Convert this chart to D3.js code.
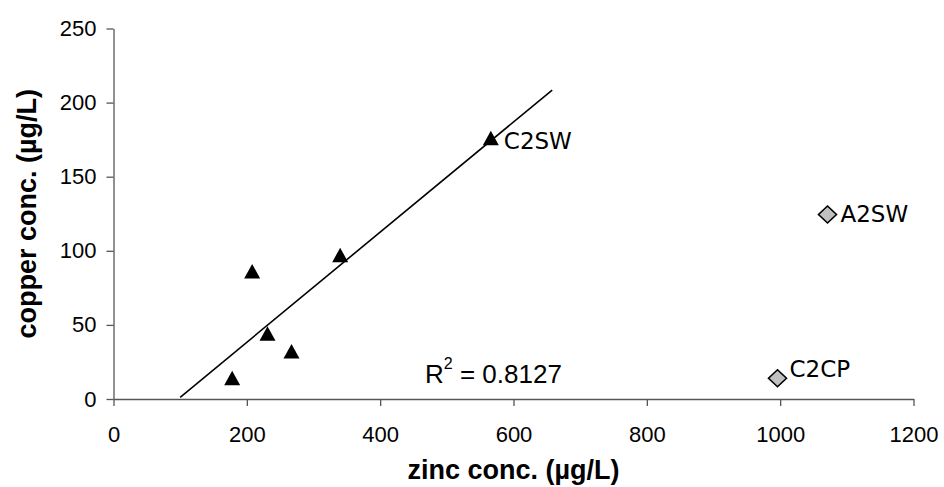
<!DOCTYPE html>
<html>
<head>
<meta charset="utf-8">
<script src="https://cdn.jsdelivr.net/npm/d3@7"></script>
<style>
  html, body { margin: 0; padding: 0; background: #fff; }
  svg { display: block; }
</style>
</head>
<body>
<svg id="chart" width="944" height="487"></svg>
<script>
// Sampling sites: zinc vs copper concentration (µg/L)
const siteNames    = ["", "", "", "", "", "C2SW"];
const zincValues   = [178, 208, 231, 267, 340, 566];
const copperValues = [14, 86, 44, 32, 97, 176];

// Outlying sites, plotted separately and excluded from the fit
const outlierNames  = ["A2SW", "C2CP"];
const outlierZinc   = [1071, 996];
const outlierCopper = [124.5, 14];

// Axis ticks and trend-line extent (forecast range of the linear fit)
const xTicks = [0, 200, 400, 600, 800, 1000, 1200];
const yTicks = [0, 50, 100, 150, 200, 250];
const trendRange = [100, 658];
const rSquaredLabel = "0.8127";

const svg = d3.select("#chart");

const x = d3.scaleLinear().domain([0, 1200]).range([113.5, 913.5]);
const y = d3.scaleLinear().domain([0, 250]).range([399, 28.5]);

const axisColor = "#555";
const sansFont = "Liberation Sans, Arial, sans-serif";

// X axis
const gx = svg.append("g")
  .attr("transform", `translate(0,${y(0)})`)
  .call(d3.axisBottom(x).tickValues(xTicks).tickFormat(d3.format("d"))
    .tickSizeInner(7).tickSizeOuter(0).tickPadding(20));
// Y axis
const gy = svg.append("g")
  .attr("transform", `translate(${x(0)},0)`)
  .call(d3.axisLeft(y).tickValues(yTicks).tickFormat(d3.format("d"))
    .tickSizeInner(7).tickSizeOuter(0).tickPadding(10));

[gx, gy].forEach(g => {
  g.select(".domain").attr("stroke", axisColor).attr("stroke-width", 1.3);
  g.selectAll(".tick line").attr("stroke", axisColor).attr("stroke-width", 1.3);
  g.selectAll(".tick text")
    .attr("fill", "#000")
    .style("font-family", sansFont)
    .style("font-size", "22px");
});

// Axis titles
svg.append("text")
  .attr("x", (x(0) + x(1200)) / 2)
  .attr("y", 479)
  .attr("text-anchor", "middle")
  .style("font-family", sansFont)
  .style("font-weight", "bold")
  .style("font-size", "27px")
  .text("zinc conc. (µg/L)");

svg.append("text")
  .attr("transform", `translate(36,${(y(0) + y(250)) / 2}) rotate(-90)`)
  .attr("text-anchor", "middle")
  .style("font-family", sansFont)
  .style("font-weight", "bold")
  .style("font-size", "27px")
  .text("copper conc. (µg/L)");

// Least-squares fit of the main sites
const n = zincValues.length;
const mx = d3.mean(zincValues), my = d3.mean(copperValues);
let sxy = 0, sxx = 0;
for (let i = 0; i < n; i++) {
  sxy += (zincValues[i] - mx) * (copperValues[i] - my);
  sxx += (zincValues[i] - mx) ** 2;
}
const slope = sxy / sxx, intercept = my - slope * mx;

svg.append("line")
  .attr("x1", x(trendRange[0])).attr("y1", y(intercept + slope * trendRange[0]))
  .attr("x2", x(trendRange[1])).attr("y2", y(intercept + slope * trendRange[1]))
  .attr("stroke", "#000")
  .attr("stroke-width", 1.6);

// Triangle markers for the main sites
const tri = "M0,-7.5L8,7L-8,7Z";
svg.append("g").selectAll("path")
  .data(zincValues.map((z, i) => ({ z, c: copperValues[i] })))
  .join("path")
  .attr("d", tri)
  .attr("transform", d => `translate(${x(d.z)},${y(d.c)})`)
  .attr("fill", "#000");

// Diamond markers for the outlying sites
const dia = "M0,-8.5L9,0L0,8.5L-9,0Z";
svg.append("g").selectAll("path")
  .data(outlierZinc.map((z, i) => ({ z, c: outlierCopper[i] })))
  .join("path")
  .attr("d", dia)
  .attr("transform", d => `translate(${x(d.z)},${y(d.c)})`)
  .attr("fill", "#c0c0c0")
  .attr("stroke", "#000")
  .attr("stroke-width", 1.6);

// Site labels (offsets in px from the marker to the text baseline start)
const labelOffset = { "C2SW": [13, 11], "A2SW": [13, 8], "C2CP": [12, -1] };
const labelFont = "DejaVu Sans, Verdana, sans-serif";
const labelled = [
  ...zincValues.map((z, i) => ({ z, c: copperValues[i], name: siteNames[i] })),
  ...outlierZinc.map((z, i) => ({ z, c: outlierCopper[i], name: outlierNames[i] }))
].filter(d => d.name);

svg.append("g").selectAll("text")
  .data(labelled)
  .join("text")
  .attr("x", d => x(d.z) + labelOffset[d.name][0])
  .attr("y", d => y(d.c) + labelOffset[d.name][1])
  .style("font-family", labelFont)
  .style("font-size", "23px")
  .attr("fill", "#000")
  .text(d => d.name);

// Coefficient of determination
const r2 = svg.append("text")
  .attr("x", 425)
  .attr("y", 383)
  .style("font-family", sansFont)
  .style("font-size", "26px")
  .attr("fill", "#000");
r2.append("tspan").text("R");
r2.append("tspan").attr("dy", -14).style("font-size", "16px").text("2");
r2.append("tspan").attr("dy", 14).text(" = " + rSquaredLabel);
</script>
</body>
</html>
